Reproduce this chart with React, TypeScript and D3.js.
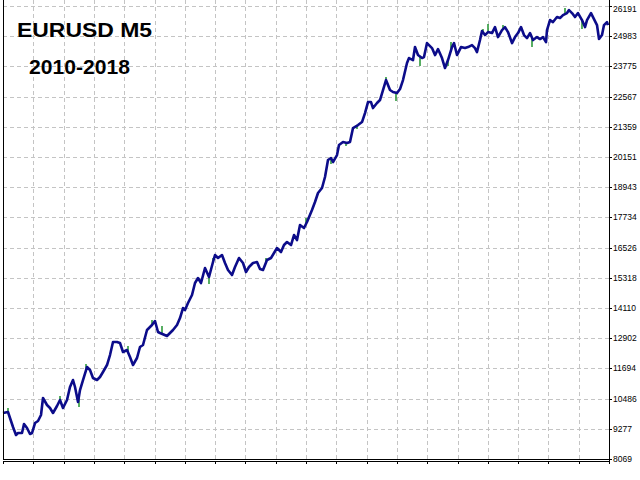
import * as d3 from "d3";

// balance curve: [trade #, balance]
const balancePoints: [number, number][] = [
  [0, 9909], [5, 9949], [7, 9709], [10, 9349], [13, 9029], [15, 9109], [19, 9109],
  [21, 9469], [24, 9309], [27, 9069], [29, 9109], [32, 9509], [35, 9589], [38, 9829],
  [40, 10509], [44, 10229], [47, 10109], [50, 9909], [54, 10189], [57, 10429],
  [60, 10109], [64, 10429], [67, 10949], [70, 11229], [72, 10949], [75, 10349],
  [77, 10829], [80, 11229], [84, 11749], [87, 11629], [90, 11309], [94, 11229],
  [97, 11349], [100, 11549], [104, 11829], [107, 12229], [110, 12749], [114, 12749],
  [117, 12709], [120, 12349], [124, 12429], [127, 12149], [130, 11829], [134, 12109],
  [137, 12549], [140, 12629], [144, 13229], [149, 13429], [152, 13589], [155, 13149],
  [157, 13109], [164, 12989], [170, 13229], [174, 13429], [177, 13709], [180, 14109],
  [182, 14029], [185, 14309], [189, 14629], [192, 15109], [195, 15309], [198, 15109],
  [202, 15709], [206, 15349], [210, 15949], [212, 16229], [215, 16109], [219, 16229],
  [222, 15909], [225, 15629], [229, 15429], [232, 15749], [236, 16109], [240, 15909],
  [243, 15549], [246, 15749], [250, 15909], [254, 15949], [257, 15669], [260, 15629],
  [264, 16029], [268, 16109], [271, 16309], [274, 16509], [278, 16349], [281, 16629],
  [284, 16749], [288, 16629], [291, 17029], [294, 16829], [297, 17429], [301, 17309],
  [304, 17549], [309, 18029], [312, 18349], [315, 18709], [319, 18909], [322, 19349],
  [325, 20029], [328, 20109], [330, 19949], [334, 20229], [336, 20629], [340, 20749],
  [344, 20709], [347, 20749], [350, 21309], [355, 21429], [359, 21549], [362, 21909],
  [365, 22349], [368, 22349], [370, 22109], [374, 22309], [377, 22429], [380, 22829],
  [383, 23229], [387, 22829], [390, 22749], [394, 22709], [397, 22869], [400, 23229],
  [404, 23909], [406, 24109], [410, 24029], [412, 24549], [415, 24229], [419, 24109],
  [421, 24149], [424, 24709], [429, 24509], [432, 24229], [435, 24469], [439, 24109],
  [442, 23709], [445, 24029], [449, 24549], [451, 24709], [454, 24229], [458, 24549],
  [462, 24509], [465, 24549], [469, 24629], [472, 24509], [474, 24349], [477, 24829],
  [479, 25189], [482, 25029], [485, 25149], [489, 25109], [492, 25349], [495, 24949],
  [499, 25229], [502, 25349], [505, 25149], [509, 24709], [512, 24949], [515, 25109],
  [518, 25349], [521, 25029], [524, 24909], [527, 25109], [530, 24829], [534, 24949],
  [537, 24869], [540, 24949], [543, 24749], [544, 25229], [547, 25629], [550, 25549],
  [554, 25749], [557, 25709], [560, 25829], [564, 25909], [566, 26029], [569, 25909],
  [572, 25749], [575, 25909], [579, 25629], [582, 25349], [584, 25629], [588, 25909],
  [590, 25749], [594, 25429], [596, 24869], [599, 25029], [601, 25429], [604, 25549],
  [605, 25429],
];

// equity excursions (green) away from the balance line: [trade #, equity]
const equitySpikes: [number, number][] = [
  [5, 10109], [57, 10589], [76, 10149], [83, 11869], [125, 12589], [149, 13629],
  [159, 13389], [206, 15069], [210, 16109], [228, 15469], [263, 16109], [303, 17709],
  [328, 19869], [343, 20589], [354, 21269], [383, 23349], [393, 22389], [417, 23789],
  [445, 23789], [448, 24749], [480, 25269], [485, 25469], [500, 25429], [529, 24549],
  [562, 26109], [579, 25269],
];

const yTickLabels = [
  "8069", "9277", "10486", "11694", "12902", "14110", "15318", "16526",
  "17734", "18943", "20151", "21359", "22567", "23775", "24983", "26191",
];

const titleLines = ["EURUSD M5", "2010-2018"];

const W = 640;
const H = 480;
const LEFT = 3;
const RIGHT = 609;
const TOP = 6;
const BOTTOM = 459;
const MAX_TRADE = 606;

export default function App() {
  const x = d3.scaleLinear().domain([0, MAX_TRADE]).range([LEFT, RIGHT]);
  const yVals = yTickLabels.map(Number);
  const y = d3
    .scaleLinear()
    .domain([yVals[0], yVals[yVals.length - 1]])
    .range([BOTTOM, TOP]);

  const line = d3
    .line<[number, number]>()
    .x((d) => x(d[0]))
    .y((d) => y(d[1]))
    .curve(d3.curveLinear);

  // piecewise interpolation of the balance at any trade
  const balanceAt = d3
    .scaleLinear()
    .domain(balancePoints.map((d) => d[0]))
    .range(balancePoints.map((d) => d[1]));

  const vGrid = d3.range(1, 20).map((k) => (k * MAX_TRADE) / 20);
  const bottomTicks = d3.range(0, 21).map((k) => (k * MAX_TRADE) / 20);

  return (
    <svg
      width={W}
      height={H}
      style={{ position: "absolute", left: 0, top: 0, background: "#fff" }}
    >
      <rect width={W} height={H} fill="#fff" />

      {/* grid */}
      <g stroke="#c4c4c4" strokeWidth={1} strokeDasharray="4,3">
        {yVals.slice(1).map((v) => (
          <line key={v} x1={LEFT} x2={RIGHT} y1={Math.round(y(v)) + 0.5} y2={Math.round(y(v)) + 0.5} />
        ))}
        {vGrid.map((t) => (
          <line key={t} x1={Math.round(x(t)) + 0.5} x2={Math.round(x(t)) + 0.5} y1={0} y2={BOTTOM} />
        ))}
      </g>

      {/* equity spikes */}
      <g stroke="#2e9a3c" strokeWidth={1.6}>
        {equitySpikes.map(([t, eq]) => (
          <line key={t} x1={x(t)} x2={x(t)} y1={y(balanceAt(t))} y2={y(eq)} />
        ))}
      </g>

      {/* balance */}
      <path
        d={line(balancePoints) ?? ""}
        fill="none"
        stroke="#0c0c8a"
        strokeWidth={2.6}
        strokeLinejoin="round"
      />

      {/* frame */}
      <g stroke="#000" strokeWidth={1} shapeRendering="crispEdges">
        <line x1={LEFT} x2={LEFT} y1={0} y2={BOTTOM} />
        <line x1={RIGHT} x2={RIGHT} y1={0} y2={BOTTOM + 5} />
        <line x1={LEFT} x2={RIGHT} y1={BOTTOM} y2={BOTTOM} />
        <line x1={LEFT} x2={RIGHT} y1={BOTTOM + 2} y2={BOTTOM + 2} />
        {bottomTicks.map((t) => (
          <line key={t} x1={Math.round(x(t))} x2={Math.round(x(t))} y1={BOTTOM + 2} y2={BOTTOM + 5} />
        ))}
        {yVals.map((v) => (
          <line key={v} x1={RIGHT} x2={RIGHT + 3} y1={Math.round(y(v))} y2={Math.round(y(v))} />
        ))}
      </g>

      {/* right axis labels */}
      <g fontFamily="Liberation Sans, Arial, sans-serif" fontSize={8.5} fill="#000">
        {yTickLabels.map((lab, i) => (
          <text
            key={lab}
            x={RIGHT + 4}
            y={Math.max(y(yVals[i]), 9)}
            dominantBaseline="central"
          >
            {lab}
          </text>
        ))}
      </g>

      {/* title */}
      <g fontFamily="Liberation Sans, Arial, sans-serif" fontWeight="bold" fill="#000">
        <text x={17} y={37} fontSize={20} textLength={135} lengthAdjust="spacingAndGlyphs">
          {titleLines[0]}
        </text>
        <text x={29} y={74} fontSize={20} textLength={101} lengthAdjust="spacingAndGlyphs">
          {titleLines[1]}
        </text>
      </g>
    </svg>
  );
}
